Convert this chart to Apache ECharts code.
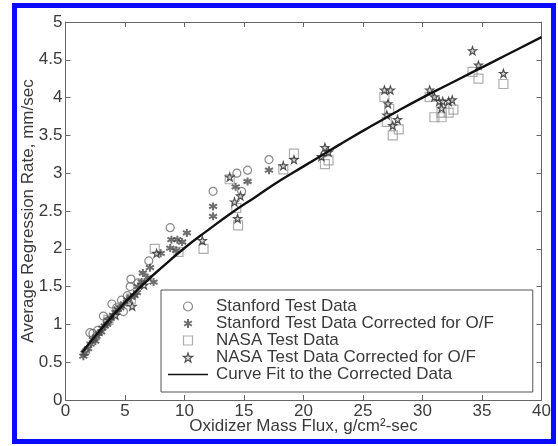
<!DOCTYPE html>
<html>
<head>
<meta charset="utf-8">
<script src="https://cdn.jsdelivr.net/npm/echarts@6/dist/echarts.min.js"></script>
<style>
html,body{margin:0;padding:0;background:#fff;}
#chart{width:558px;height:446px;}
</style>
</head>
<body>
<div id="chart"></div>
<script>
// ---- data ----
const xTickLabels = ['0','5','10','15','20','25','30','35','40'];
const yTickLabels = ['0','0.5','1','1.5','2','2.5','3','3.5','4','4.5','5'];

const stanfordData = [[1.7,0.64],[2.05,0.89],[2.3,0.88],[2.7,0.92],[3.18,1.11],[3.5,1.04],[3.9,1.27],[4.3,1.22],[4.7,1.32],[4.87,1.17],[5.2,1.38],[5.43,1.50],[5.5,1.60],[6.1,1.55],[7.0,1.84],[8.8,2.28],[12.4,2.76],[14.4,3.00],[14.8,2.76],[15.3,3.04],[17.1,3.18]];

const stanfordCorrected = [[1.5,0.58],[1.6,0.62],[1.9,0.68],[2.1,0.74],[2.3,0.80],[2.5,0.78],[2.6,0.84],[2.8,0.88],[3.0,0.90],[3.1,0.95],[3.3,0.98],[3.5,1.00],[3.6,1.05],[3.8,1.08],[4.0,1.12],[4.2,1.16],[4.4,1.20],[4.6,1.22],[4.9,1.27],[5.2,1.32],[5.5,1.36],[5.8,1.38],[6.0,1.42],[6.1,1.50],[6.4,1.56],[6.5,1.68],[6.9,1.62],[7.1,1.75],[7.4,1.56],[8.0,1.94],[8.8,2.01],[8.9,2.12],[9.3,1.98],[9.4,2.12],[9.8,2.09],[10.2,2.21],[12.4,2.56],[12.4,2.43],[14.3,2.82],[15.3,2.89],[17.1,3.04]];

const nasaData = [[3.6,1.06],[5.5,1.34],[7.5,2.00],[9.5,1.96],[11.6,2.00],[13.8,2.92],[14.35,2.54],[14.5,2.31],[18.3,3.05],[19.2,3.26],[21.8,3.12],[22.1,3.17],[26.8,4.01],[27.2,3.85],[27.0,3.68],[27.5,3.50],[28.0,3.58],[30.6,4.01],[31.0,3.74],[31.6,3.74],[31.6,3.80],[32.2,3.80],[32.6,3.84],[34.2,4.34],[34.7,4.25],[36.8,4.18]];

const nasaCorrected = [[4.2,1.12],[5.6,1.24],[6.6,1.52],[7.65,1.94],[11.5,2.11],[13.8,2.95],[14.2,2.62],[14.7,2.70],[14.46,2.40],[18.3,3.10],[19.2,3.18],[21.5,3.22],[21.8,3.34],[22.1,3.28],[26.8,4.10],[27.3,4.10],[27.1,3.92],[27.0,3.77],[27.9,3.71],[27.5,3.63],[30.6,4.10],[31.0,4.01],[31.4,3.95],[31.7,3.95],[32.2,3.95],[32.5,3.97],[31.6,3.86],[34.2,4.62],[34.7,4.43],[36.8,4.32]];

const curveX = [1.4,2,3,4,5,6,7,8,10,12,14,16,18,20,22,24,26,28,30,32,34,36,38,40];
const curveY = [0.63,0.75,0.94,1.12,1.29,1.45,1.60,1.74,2.01,2.25,2.48,2.69,2.90,3.09,3.28,3.47,3.65,3.83,4.00,4.16,4.32,4.48,4.64,4.80];

const seriesNames = ['Stanford Test Data','Stanford Test Data Corrected for O/F','NASA Test Data','NASA Test Data Corrected for O/F','Curve Fit to the Corrected Data'];

// ---- chart ----
const FONT = 'Liberation Sans, Arial, Helvetica, sans-serif';
const TXT = '#3a3a3a';
const AX = '#666';
const circlePath = 'path://M5,0A5,5 0 1 1 4.999,0Z';
const squarePath = 'path://M0,0H10V10H0Z';
const asteriskPath = 'path://M0,-5L0,5M-4.33,-2.5L4.33,2.5M-4.33,2.5L4.33,-2.5';
const starPath = 'path://M0,-10L2.35,-3.24L9.51,-3.09L3.8,1.24L5.88,8.09L0,4L-5.88,8.09L-3.8,1.24L-9.51,-3.09L-2.35,-3.24Z';
const linePath = 'path://M0,0H40V1.6H0Z';

const chart = echarts.init(document.getElementById('chart'), null, {renderer:'canvas'});

const axisCommon = {
  axisLine:{show:true, onZero:false, lineStyle:{color:AX, width:1}},
  axisTick:{show:true, inside:true, length:5, lineStyle:{color:AX}},
  splitLine:{show:false}
};

const circleStyle = {color:'rgba(255,255,255,0)', borderColor:'#6a6a6a', borderWidth:1.2};
const asteriskStyle = {color:'#4a4a4a', borderColor:'#4a4a4a', borderWidth:2};
const squareStyle = {color:'rgba(255,255,255,0)', borderColor:'#9a9a9a', borderWidth:1.2};
const starStyle = {color:'#d0d0d0', borderColor:'#2a2a2a', borderWidth:1.2};

chart.setOption({
  animation:false,
  backgroundColor:'#fff',
  grid:{left:65.5, right:16.5, top:22, bottom:46, containLabel:false},
  xAxis:[
    Object.assign({
      type:'value', min:0, max:40, interval:5, position:'bottom',
      name:'Oxidizer Mass Flux, g/cm²-sec', nameLocation:'middle', nameGap:18,
      nameMoveOverlap:false,
      nameTextStyle:{fontFamily:FONT, fontSize:17, color:TXT},
      axisLabel:{show:true, margin:3, fontFamily:FONT, fontSize:17, color:TXT,
        formatter:(v)=>xTickLabels[Math.round(v/5)]}
    }, axisCommon),
    Object.assign({
      type:'value', min:0, max:40, interval:5, position:'top',
      axisLabel:{show:false}
    }, axisCommon)
  ],
  yAxis:[
    Object.assign({
      type:'value', min:0, max:5, interval:0.5, position:'left',
      name:'Average Regression Rate, mm/sec', nameLocation:'middle', nameGap:29,
      nameMoveOverlap:false,
      nameTextStyle:{fontFamily:FONT, fontSize:17, color:TXT},
      axisLabel:{show:true, margin:3, fontFamily:FONT, fontSize:17, color:TXT,
        formatter:(v)=>yTickLabels[Math.round(v/0.5)]}
    }, axisCommon),
    Object.assign({
      type:'value', min:0, max:5, interval:0.5, position:'right',
      axisLabel:{show:false}
    }, axisCommon)
  ],
  legend:{
    orient:'vertical', left:161, top:290,
    padding:[8,39,9,7],
    itemWidth:40, itemHeight:9, itemGap:0,
    symbolKeepAspect:true,
    borderColor:'#555', borderWidth:1, backgroundColor:'#fff',
    data:[
      {name:seriesNames[0], icon:circlePath, itemStyle:circleStyle},
      {name:seriesNames[1], icon:asteriskPath, itemStyle:asteriskStyle},
      {name:seriesNames[2], icon:squarePath, itemStyle:squareStyle},
      {name:seriesNames[3], icon:starPath, itemStyle:starStyle},
      {name:seriesNames[4], icon:linePath, itemStyle:{color:'#111', borderWidth:0}}
    ],
    textStyle:{fontFamily:FONT, fontSize:17, color:TXT, lineHeight:17, padding:[0,0,0,3]}
  },
  series:[
    {
      name:seriesNames[0], type:'scatter', data:stanfordData,
      symbol:'circle', symbolSize:8, itemStyle:circleStyle, z:3
    },
    {
      name:seriesNames[1], type:'scatter', data:stanfordCorrected,
      symbol:asteriskPath, symbolSize:8, itemStyle:asteriskStyle, z:4
    },
    {
      name:seriesNames[2], type:'scatter', data:nasaData,
      symbol:'rect', symbolSize:9, itemStyle:squareStyle, z:2
    },
    {
      name:seriesNames[3], type:'scatter', data:nasaCorrected,
      symbol:starPath, symbolSize:8, itemStyle:starStyle, z:5
    },
    {
      name:seriesNames[4], type:'line',
      data:curveX.map((x,i)=>[x, curveY[i]]),
      smooth:true, symbol:'none', showSymbol:false,
      lineStyle:{color:'#111', width:2.4},
      itemStyle:{color:'#111'},
      z:6
    }
  ],
  graphic:[
    {type:'rect', shape:{x:14.5, y:5.5, width:539, height:436},
     style:{fill:null, stroke:'#0a0aff', lineWidth:5}, z:100, silent:true}
  ]
});
</script>
</body>
</html>
